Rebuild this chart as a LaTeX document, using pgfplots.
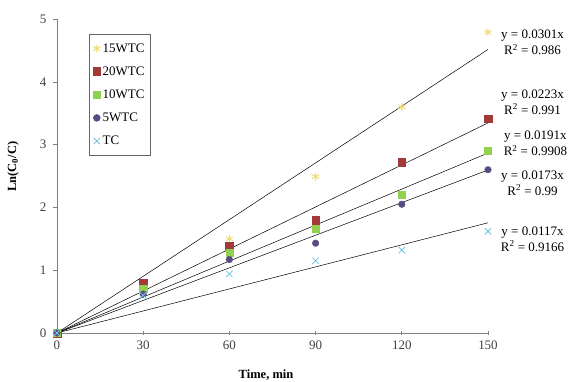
\documentclass[border=0pt]{standalone}
\usepackage{pgfplots}
\pgfplotsset{compat=1.18}
\usepackage{fontspec}
\setmainfont{Liberation Serif}
\definecolor{cyel}{HTML}{EEDC6A}
\definecolor{cred}{HTML}{A33A3A}
\definecolor{cgrn}{HTML}{92D050}
\definecolor{cpur}{HTML}{5A4B84}
\definecolor{cblu}{HTML}{6CC4DA}
\definecolor{axg}{HTML}{808080}
\begin{document}
\begin{tikzpicture}[x=1pt,y=1pt]
\path[use as bounding box] (-57,-48) rectangle (514,333);
\begin{axis}[
  at={(0,0)}, anchor=origin,
  scale only axis, width=431pt, height=314pt,
  xmin=0, xmax=150, ymin=0, ymax=5,
  axis lines*=left,
  axis line style={axg, line width=0.8pt},
  xtick={0,30,60,90,120,150}, ytick={0,1,2,3,4,5},
  tick style={axg, line width=0.6pt},
  xtick align=center, ytick align=outside,
  major tick length=4pt,
  tick label style={font=\fontsize{13}{15}\selectfont, text=black!75},
  /pgf/number format/assume math mode=true,
  xticklabel style={yshift=-2pt},
  yticklabel style={xshift=-3pt},
  clip=false,
  xlabel={\textbf{Time, min}},
  ylabel={\textbf{Ln(C\textsubscript{0}/C)}},
  label style={font=\fontsize{12.5}{14}\selectfont},
  xlabel style={at={(axis description cs:0.485,0)}, anchor=center, yshift=-42pt},
  ylabel style={at={(axis description cs:-0.102,0.53)}, anchor=center},
  legend style={at={(axis cs:11,4.76)}, anchor=north west, draw=black!60, line width=0.8pt,
    font=\fontsize{13}{15}\selectfont, row sep=9pt, inner xsep=4pt, inner ysep=7pt,
    cells={anchor=west}},
  legend image code/.code={\draw[#1] plot coordinates {(0.1cm,0cm)};},
]
% trend lines
\addplot[black, line width=0.5pt, forget plot] coordinates {(0,0) (150,4.515)};
\addplot[black, line width=0.5pt, forget plot] coordinates {(0,0) (150,3.345)};
\addplot[black, line width=0.5pt, forget plot] coordinates {(0,0) (150,2.865)};
\addplot[black, line width=0.5pt, forget plot] coordinates {(0,0) (150,2.595)};
\addplot[black, line width=0.5pt, forget plot] coordinates {(0,0) (150,1.755)};
% data
\addplot[only marks, mark=asterisk, mark size=4pt, cyel, line width=1pt] coordinates {(0,0) (30,0.80) (60,1.50) (90,2.49) (120,3.60) (150,4.79)};
\addlegendentry{15WTC}
\addplot[only marks, mark=square*, mark size=3.8pt, cred] coordinates {(0,0) (30,0.80) (60,1.39) (90,1.80) (120,2.72) (150,3.41)};
\addlegendentry{20WTC}
\addplot[only marks, mark=square*, mark size=3.6pt, cgrn] coordinates {(0,0) (30,0.70) (60,1.28) (90,1.66) (120,2.20) (150,2.90)};
\addlegendentry{10WTC}
\addplot[only marks, mark=*, mark size=3.3pt, cpur] coordinates {(0,0) (30,0.62) (60,1.17) (90,1.43) (120,2.05) (150,2.60)};
\addlegendentry{5WTC}
\addplot[only marks, mark=x, mark size=4.5pt, cblu, line width=0.8pt] coordinates {(0,0) (30,0.60) (60,0.94) (90,1.15) (120,1.32) (150,1.62)};
\addlegendentry{TC}
% equations
\begin{scope}[every node/.style={align=center, font=\fontsize{13}{16}\selectfont}]
\node at (axis cs:165.5,4.63) {y = 0.0301x\\R\textsuperscript{2} = 0.986};
\node at (axis cs:165.5,3.68) {y = 0.0223x\\R\textsuperscript{2} = 0.991};
\node at (axis cs:166.5,3.02) {y = 0.0191x\\R\textsuperscript{2} = 0.9908};
\node at (axis cs:165.5,2.39) {y = 0.0173x\\R\textsuperscript{2} = 0.99};
\node at (axis cs:165.5,1.50) {y = 0.0117x\\R\textsuperscript{2} = 0.9166};
\end{scope}
\end{axis}
\end{tikzpicture}
\end{document}
